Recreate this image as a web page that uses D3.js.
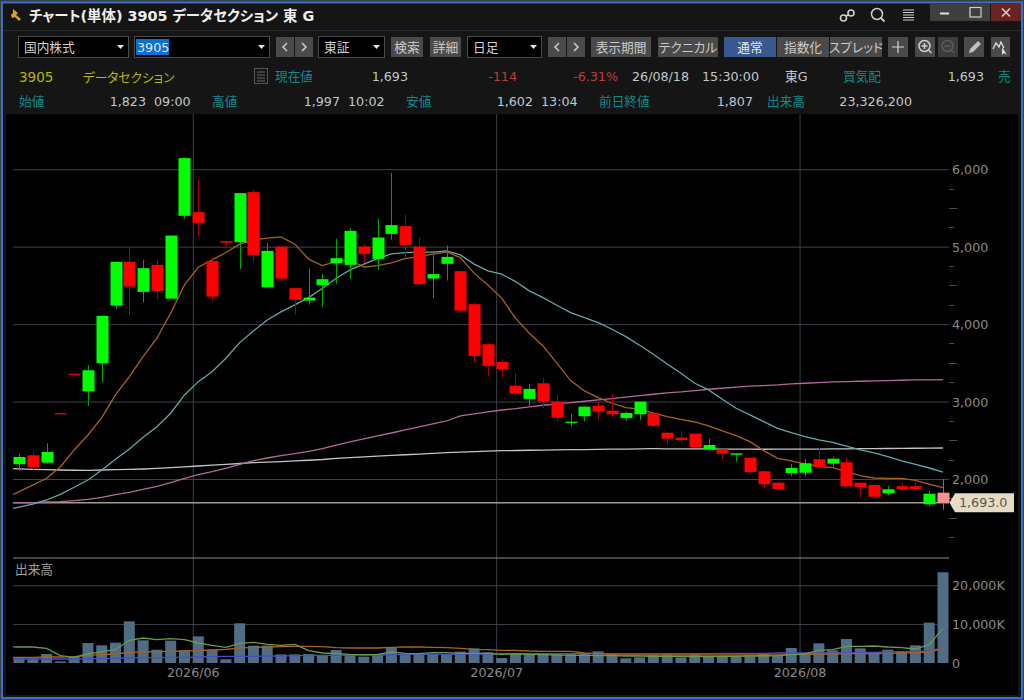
<!DOCTYPE html>
<html>
<head>
<meta charset="utf-8">
<title>チャート(単体) 3905</title>
<script src="https://cdn.jsdelivr.net/npm/d3@7"></script>
<style>
    html, body { margin: 0; padding: 0; background: #3a3d42; overflow: hidden; }
    svg { display: block; }
    text { font-family: "DejaVu Sans", "Noto Sans CJK JP", sans-serif; font-size: 12.7px; font-feature-settings: "palt"; }
    .domain { display: none; }
</style>
</head>
<body>
<div id="chart"></div>
<script>
// Daily candles (one entry per trading day)
const candleOpen = [2190,2306,2211,2850,3360,3133,3495,4239,4804,4416,4765,4329,5398,5446,4813,5070,5058,5704,4477,5001,4464,4304,4503,4787,4765,5001,4842,5165,5265,5001,4588,4778,4683,4257,3740,3512,3205,3034,3236,2999,2724,2810,2947,2882,2788,2836,2850,2598,2534,2585,2384,2384,2314,2275,2099,1952,2078,2081,2255,2198,2216,1952,1922,1815,1906,1906,1673,1823];
const candleHigh = [2323,2366,2461,2850,3360,3469,4106,4804,5001,4826,4826,5143,6143,5863,4864,5070,5691,5743,5045,5001,4464,4717,4649,5101,5239,5032,5363,5950,5411,5110,4894,5014,4683,4278,3753,3547,3366,3227,3309,3085,2840,2934,3012,3098,2870,2999,2850,2607,2620,2585,2521,2384,2332,2275,2112,1970,2194,2255,2404,2288,2284,1952,1930,1913,1948,1957,1845,1997];
const candleLow = [2103,2107,2194,2840,3345,2943,3253,4196,4097,4278,4322,4329,5359,5140,4304,5001,4713,4808,4477,4545,4123,4252,4222,4519,4584,4787,4700,5088,4851,4506,4335,4562,4158,3508,3335,3305,3063,2934,2913,2749,2676,2745,2762,2792,2753,2762,2665,2435,2469,2404,2358,2249,2224,2068,1875,1860,2035,2035,2145,2151,1906,1758,1765,1789,1854,1849,1647,1602];
const candleClose = [2284,2151,2349,2840,3345,3404,4106,4804,4485,4722,4429,5143,6143,5308,4355,5050,5691,4894,4946,4588,4313,4342,4580,4851,5204,4907,5118,5278,5023,4516,4645,4868,4174,3589,3460,3417,3102,3163,2999,2792,2740,2934,2870,2836,2853,2999,2687,2521,2504,2413,2439,2327,2332,2090,1932,1871,2142,2203,2155,2262,1906,1893,1771,1867,1867,1871,1810,1693];

// Moving averages, first entry is the day before the visible window
const maShort = [1749,1836,1922,2009,2159,2375,2568,2792,3085,3322,3580,3818,4141,4506,4735,4829,4924,5032,5088,5110,5127,5032,4839,4756,4810,4826,4735,4756,4791,4846,4872,4903,4933,4859,4658,4506,4335,4076,3882,3718,3495,3270,3137,3050,2978,2921,2902,2849,2805,2771,2736,2685,2620,2559,2482,2366,2267,2233,2194,2164,2146,2094,2043,2013,2009,2009,1983,1935,1888];
const maMid = [1600,1638,1677,1729,1802,1893,1987,2116,2255,2388,2539,2676,2849,3085,3257,3386,3559,3761,3912,4054,4158,4248,4342,4464,4593,4700,4774,4846,4907,4924,4929,4929,4946,4894,4774,4687,4645,4549,4429,4342,4244,4149,4084,4019,3934,3838,3727,3611,3486,3366,3236,3150,3030,2913,2827,2740,2655,2598,2547,2504,2474,2426,2375,2336,2288,2233,2190,2142,2090];
const maLong = [1694,1694,1694,1703,1707,1720,1738,1764,1797,1828,1867,1906,1952,2009,2056,2094,2138,2190,2236,2271,2301,2327,2358,2391,2437,2478,2517,2556,2594,2633,2672,2711,2749,2814,2840,2866,2891,2908,2930,2952,2969,2986,3004,3021,3038,3056,3076,3094,3111,3124,3141,3159,3172,3185,3198,3205,3214,3227,3236,3244,3253,3257,3262,3266,3270,3275,3279,3279,3283];
const maYear = [2137,2132,2125,2120,2116,2113,2112,2116,2120,2124,2129,2137,2146,2157,2168,2179,2190,2200,2211,2218,2224,2233,2242,2252,2267,2276,2285,2295,2304,2313,2322,2331,2340,2347,2353,2360,2366,2368,2371,2373,2375,2378,2380,2382,2385,2387,2389,2391,2390,2390,2389,2388,2387,2386,2385,2384,2385,2386,2386,2387,2388,2390,2391,2392,2394,2395,2397,2398,2400];

// Volume in thousands of shares
const volume = [1457,1200,2314,400,1543,5142,4542,5228,10712,5828,3428,5742,3257,6856,3428,943,10198,4456,4456,2228,2228,2314,2057,3342,2314,1628,2228,3942,2400,2228,2400,2228,2914,3771,2742,1286,2314,2057,2314,2571,2314,2400,3000,2314,1200,1457,2057,2228,1457,2228,1714,1714,1543,1714,2314,1885,3857,2571,5056,3257,6170,3771,2314,3428,3000,4542,10370,23326];
const volMaShort = [4200,4114,4114,3771,1885,1457,2314,2914,3428,5828,6428,6000,6256,6000,5142,4542,4028,5056,5313,4800,4542,4800,3171,2571,2400,2228,2143,2228,2828,2486,2400,2657,2657,2486,2486,2486,2228,2314,2228,2143,2057,1971,1971,1886,1886,1800,1800,1714,1714,1714,1628,1628,1714,1714,1800,1800,1886,2143,2314,3257,3428,4285,4285,4370,4114,3942,3600,4713,8913];
const volMaMid = [1457,1457,1457,1543,1543,1628,1971,2143,2314,2742,2828,2914,3000,3085,3171,3342,3514,3857,4028,4114,4200,4285,4285,4200,3942,3857,3857,3857,4028,4114,4114,4028,3942,3771,3514,3428,3257,3257,3085,3000,3000,3000,2571,2400,2143,2057,2057,2057,2057,2057,2057,2057,2057,2057,2057,2057,2057,2143,2228,2314,2314,2400,2400,2400,2486,2571,2657,2828,3771];
const volMaLong = [1028,1028,1028,1028,1028,1028,1114,1114,1200,1286,1371,1371,1457,1457,1543,1628,1714,1714,1714,1800,1800,1885,1885,1971,1971,2057,2057,2057,2143,2143,2228,2228,2228,2314,2314,2314,2400,2400,2400,2400,2400,2400,2400,2400,2400,2400,2400,2400,2400,2400,2400,2400,2485,2485,2485,2485,2571,2571,2571,2571,2571,2571,2657,2742,2828,2914,3000,3085,3857];

const priceTicks = [2000,3000,4000,5000,6000];
const priceMinorTicks = [1250,1500,1750,2250,2500,2750,3250,3500,3750,4250,4500,4750,5250,5500,5750];
const volumeTicks = [0,10000,20000];
const monthLabels = ['2026/06','2026/07','2026/08'];
const monthStarts = [13,35,57];
const lastPrice = 1693;

const svg = d3.select('#chart').append('svg').attr('width', 1024).attr('height', 700);

// Scales: day index to x, price and volume to y
const xScale = d3.scaleLinear().domain([0, 67]).range([19, 943]);
const yPrice = d3.scaleLinear().domain([2000, 6000]).range([479, 169.2]);
const yVolume = d3.scaleLinear().domain([0, 20000]).range([663, 585.2]);
const monthX = i => xScale(i) - 5;

// --- window frame ---
svg.append('rect').attr('x', 0).attr('y', 0).attr('width', 1024).attr('height', 700).attr('fill', '#3a3d42');
svg.append('rect').attr('x', 2).attr('y', 2.5).attr('width', 1020).attr('height', 695.5)
    .attr('fill', '#151515').attr('stroke', '#3d6fc6').attr('stroke-width', 2);
svg.append('rect').attr('x', 6).attr('y', 114).attr('width', 1012).attr('height', 581).attr('fill', '#000');
svg.append('line').attr('x1', 3).attr('x2', 1021).attr('y1', 30.5).attr('y2', 30.5).attr('stroke', '#2a2a2a');

function label(x, y, str, color, anchor, extra) {
    const t = svg.append('text').attr('x', x).attr('y', y).attr('fill', color)
        .attr('text-anchor', anchor || 'start').text(str);
    if (extra) extra(t);
    return t;
}

// Title bar
svg.append('path').attr('d', 'M13,9 l5,4 l-2,2 l5,4 l-2,2 l-4,-4 l-3,1 l-1,-3 l2,-2 z').attr('fill', '#d9a520');
label(29, 21, 'チャート(単体) 3905 データセクション 東 G', '#eeeeee', 'start', t => t.style('font-size', '14.4px').style('font-weight', 'bold'));

// Title bar icons
const iconStroke = '#d0d0d0';
svg.append('circle').attr('cx', 843.5).attr('cy', 18).attr('r', 3).attr('fill', 'none').attr('stroke', iconStroke).attr('stroke-width', 1.6);
svg.append('circle').attr('cx', 851).attr('cy', 13).attr('r', 3).attr('fill', 'none').attr('stroke', iconStroke).attr('stroke-width', 1.6);
svg.append('line').attr('x1', 846).attr('y1', 16).attr('x2', 849).attr('y2', 14.5).attr('stroke', iconStroke).attr('stroke-width', 1.4);
svg.append('circle').attr('cx', 877).attr('cy', 14).attr('r', 5.5).attr('fill', 'none').attr('stroke', iconStroke).attr('stroke-width', 1.5);
svg.append('line').attr('x1', 881).attr('y1', 18).attr('x2', 884.5).attr('y2', 21.5).attr('stroke', iconStroke).attr('stroke-width', 1.8);
[10, 12.5, 15, 17.5, 20].forEach(y => {
    svg.append('line').attr('x1', 903).attr('x2', 914).attr('y1', y).attr('y2', y).attr('stroke', iconStroke).attr('stroke-width', 1);
});
[[930, '#3f3f3f'], [960, '#3f3f3f'], [991, '#6a2323']].forEach(b => {
    svg.append('rect').attr('x', b[0]).attr('y', 3).attr('width', 30).attr('height', 18).attr('fill', b[1]);
});
svg.append('line').attr('x1', 940).attr('x2', 949).attr('y1', 13.5).attr('y2', 13.5).attr('stroke', '#e0e0e0').attr('stroke-width', 2);
svg.append('rect').attr('x', 970).attr('y', 7.5).attr('width', 11).attr('height', 9.5).attr('fill', 'none').attr('stroke', '#d0d0d0').attr('stroke-width', 1.2);
svg.append('path').attr('d', 'M1002,8.5 L1010,16.5 M1010,8.5 L1002,16.5').attr('stroke', '#e0c8c8').attr('stroke-width', 1.6);

// --- toolbar ---
function selectBox(x, w, str) {
    svg.append('rect').attr('x', x + 0.5).attr('y', 36.5).attr('width', w).attr('height', 21).attr('fill', '#000').attr('stroke', '#4a4a4a');
    svg.append('path').attr('d', `M${x + w - 11},45 h7 l-3.5,4 z`).attr('fill', '#e8e8e8');
    if (str) label(x + 6, 52, str, '#d0d0d0');
}
function button(x, w, str, fill, color) {
    svg.append('rect').attr('x', x).attr('y', 37).attr('width', w).attr('height', 20).attr('fill', fill || '#4a4a4a');
    if (str) label(x + w / 2, 52, str, color || '#cccccc', 'middle');
}
function arrows(x) {
    svg.append('rect').attr('x', x).attr('y', 37).attr('width', 18).attr('height', 20).attr('fill', '#4a4a4a');
    svg.append('rect').attr('x', x + 19).attr('y', 37).attr('width', 18).attr('height', 20).attr('fill', '#4a4a4a');
    svg.append('path').attr('d', `M${x + 11},43 l-4,4 l4,4 M${x + 26},43 l4,4 l-4,4`).attr('fill', 'none').attr('stroke', '#c8c8c8').attr('stroke-width', 1.6);
}
selectBox(18, 110, '国内株式');
selectBox(134, 135, '');
svg.append('rect').attr('x', 136).attr('y', 39).attr('width', 33).attr('height', 16).attr('fill', '#0a6fd6');
label(137, 52, '3905', '#e8e8e8');
arrows(276);
selectBox(318, 66, '東証');
button(391, 32, '検索');
button(430, 31, '詳細');
selectBox(467, 74, '日足');
arrows(548);
button(591, 60, '表示期間');
button(658, 60, 'テクニカル');
button(724, 52, '通常', '#39588f', '#e8e8e8');
button(777, 52, '指数化');
button(830, 52, 'スプレッド');
button(888, 20, '');
svg.append('path').attr('d', 'M898,41 v12 M892,47 h12').attr('stroke', '#d8d8d8').attr('stroke-width', 1.2);
button(915, 20, '');
svg.append('circle').attr('cx', 924.5).attr('cy', 46).attr('r', 5.5).attr('fill', 'none').attr('stroke', '#d0d0d0').attr('stroke-width', 1.5);
svg.append('path').attr('d', 'M921.5,46 h6 M924.5,43 v6 M928.5,50 l3,3').attr('stroke', '#d0d0d0').attr('stroke-width', 1.4);
button(938, 20, '', '#3c3c3c');
svg.append('circle').attr('cx', 947.5).attr('cy', 46).attr('r', 5.5).attr('fill', 'none').attr('stroke', '#5e5e5e').attr('stroke-width', 1.5);
svg.append('path').attr('d', 'M944.5,46 h6 M951.5,50 l3,3').attr('stroke', '#5e5e5e').attr('stroke-width', 1.4);
button(964, 20, '');
svg.append('path').attr('d', 'M969,53 l1,-4 l8,-8 l3,3 l-8,8 z').attr('fill', '#c0c0c0');
button(991, 19, '');
svg.append('path').attr('d', 'M993,49 l3,-6 l3,4 l2,-5 l3,6').attr('fill', 'none').attr('stroke', '#e0e0e0').attr('stroke-width', 1.3);
svg.append('path').attr('d', 'M1002,47 v8 l2,-2 l3,2 z').attr('fill', '#e0e0e0');

// --- quote rows ---
const yellow = '#b5b800', teal = '#0f8a8a', grey = '#c0c8cc', red = '#c03a3a';
label(19, 82, '3905', yellow, 'start', t => t.style('font-size', '13.5px'));
label(83, 82, 'データセクション', yellow);
svg.append('rect').attr('x', 254.5).attr('y', 68.5).attr('width', 13).attr('height', 15).attr('fill', 'none').attr('stroke', '#555');
[72, 75, 78, 81].forEach(y => svg.append('line').attr('x1', 257).attr('x2', 265).attr('y1', y).attr('y2', y).attr('stroke', '#666'));
label(275, 81, '現在値', teal);
label(408, 81, '1,693', grey, 'end');
label(517, 81, '-114', red, 'end');
label(618, 81, '-6.31%', red, 'end');
label(632, 81, '26/08/18', grey);
label(702, 81, '15:30:00', grey);
label(785, 81, '東G', grey);
label(843, 81, '買気配', teal);
label(984, 81, '1,693', grey, 'end');
label(998, 81, '売', teal);

label(19, 106, '始値', teal);
label(146, 106, '1,823', grey, 'end');
label(154, 106, '09:00', grey);
label(212, 106, '高値', teal);
label(340, 106, '1,997', grey, 'end');
label(348, 106, '10:02', grey);
label(406, 106, '安値', teal);
label(533, 106, '1,602', grey, 'end');
label(541, 106, '13:04', grey);
label(599, 106, '前日終値', teal);
label(753, 106, '1,807', grey, 'end');
label(767, 106, '出来高', teal);
label(912, 106, '23,326,200', grey, 'end');

// --- chart ---
const plotLeft = 13, plotRight = 949;
svg.append('clipPath').attr('id', 'plot-clip').append('rect')
    .attr('x', plotLeft).attr('y', 114).attr('width', plotRight - plotLeft).attr('height', 560);

// Month separators and labels
svg.selectAll('.month-line').data(monthStarts).enter().append('line')
    .attr('x1', d => monthX(d)).attr('x2', d => monthX(d))
    .attr('y1', 114).attr('y2', 663)
    .attr('stroke', '#3b3f4b').attr('stroke-width', 1);
svg.selectAll('.month-label').data(monthLabels).enter().append('text')
    .attr('x', (d, i) => monthX(monthStarts[i]))
    .attr('y', 677).attr('text-anchor', 'middle').attr('fill', '#8a8a8a').text(d => d);

// Price axis: long gridlines on the round thousands, short ticks between
const priceAxis = svg.append('g').attr('transform', `translate(${plotRight},0)`)
    .call(d3.axisRight(yPrice).tickValues(priceTicks).tickSize(-(plotRight - plotLeft)).tickPadding(3).tickFormat(d3.format(',')));
priceAxis.selectAll('line').attr('stroke', '#3f434e');
priceAxis.selectAll('text').attr('x', 3).attr('dy', '0.36em').attr('fill', '#8a8a8a').style('font-size', '12.7px');
svg.selectAll('.minor-tick').data(priceMinorTicks).enter().append('line')
    .attr('x1', 949).attr('x2', d => d % 500 === 0 ? 957 : 954)
    .attr('y1', d => Math.round(yPrice(d)) + 0.5).attr('y2', d => Math.round(yPrice(d)) + 0.5)
    .attr('stroke', '#4a4a4a');

// Last price line
svg.append('line').attr('x1', plotLeft).attr('x2', plotRight)
    .attr('y1', yPrice(lastPrice)).attr('y2', yPrice(lastPrice))
    .attr('stroke', '#a09c92').attr('stroke-width', 1.4);

// Volume panel
svg.append('line').attr('x1', plotLeft).attr('x2', plotRight).attr('y1', 558).attr('y2', 558).attr('stroke', '#8c8c8c');
label(15, 574, '出来高', '#a0a0a0');
const volumeAxis = svg.append('g').attr('transform', `translate(${plotRight},0)`)
    .call(d3.axisRight(yVolume).tickValues(volumeTicks).tickSize(-(plotRight - plotLeft)).tickFormat(d => d3.format(',')(d) + (d ? 'K' : '')));
volumeAxis.selectAll('line').attr('stroke', d => d === 0 ? 'none' : '#3f434e');
volumeAxis.selectAll('text').attr('x', 3).attr('dy', '0.36em').attr('fill', '#8a8a8a').style('font-size', '12.7px');

svg.selectAll('.vol-bar').data(volume).enter().append('rect')
    .attr('x', (d, i) => xScale(i) - 5.5).attr('width', 11)
    .attr('y', d => yVolume(d)).attr('height', d => yVolume(0) - yVolume(d))
    .attr('fill', '#506d86');

// Moving average lines
const priceLine = d3.line().x((d, i) => xScale(i - 1)).y(d => yPrice(d));
const volLine = d3.line().x((d, i) => xScale(i - 1)).y(d => yVolume(d));
const lineLayer = svg.append('g').attr('clip-path', 'url(#plot-clip)');
[[maYear, '#c4c4c4'], [maLong, '#b5689a']].forEach(s => {
    lineLayer.append('path').attr('d', priceLine(s[0])).attr('fill', 'none').attr('stroke', s[1]).attr('stroke-width', 1.3);
});
[[volMaLong, '#4a4fc4'], [volMaMid, '#a8641e'], [volMaShort, '#6a9a4c']].forEach(s => {
    lineLayer.append('path').attr('d', volLine(s[0])).attr('fill', 'none').attr('stroke', s[1]).attr('stroke-width', 1.3);
});

// Candles
const isUp = i => candleClose[i] >= candleOpen[i];
const lastIndex = candleOpen.length - 1;
const candles = svg.append('g').selectAll('g').data(candleOpen).enter().append('g');
candles.append('line')
    .attr('x1', (d, i) => Math.round(xScale(i)) + 0.5).attr('x2', (d, i) => Math.round(xScale(i)) + 0.5)
    .attr('y1', (d, i) => yPrice(candleHigh[i])).attr('y2', (d, i) => yPrice(candleLow[i]))
    .attr('stroke', (d, i) => i === lastIndex ? '#a85c5c' : isUp(i) ? '#00a800' : '#a80000');
candles.append('rect')
    .attr('x', (d, i) => Math.round(xScale(i)) + 0.5 - 6).attr('width', 12)
    .attr('y', (d, i) => Math.min(yPrice(candleOpen[i]), yPrice(candleClose[i])))
    .attr('height', (d, i) => Math.max(1.2, Math.abs(yPrice(candleOpen[i]) - yPrice(candleClose[i]))))
    .attr('fill', (d, i) => i === lastIndex ? '#ff9090' : isUp(i) ? '#00ff00' : '#ff0000');

// Short and mid averages run over the candles
[[maMid, '#62a8a8'], [maShort, '#a8621a']].forEach(s => {
    lineLayer.append('path').attr('d', priceLine(s[0])).attr('fill', 'none').attr('stroke', s[1]).attr('stroke-width', 1.3);
});

// Last price flag
const flagY = yPrice(lastPrice);
svg.append('path').attr('d', `M949.5,${flagY} L955,${flagY - 9.5} H1014 V${flagY + 9.5} H955 Z`).attr('fill', '#e6dcc6');
label(959, flagY + 4.5, d3.format(',.1f')(lastPrice), '#555555');
</script>
</body>
</html>
